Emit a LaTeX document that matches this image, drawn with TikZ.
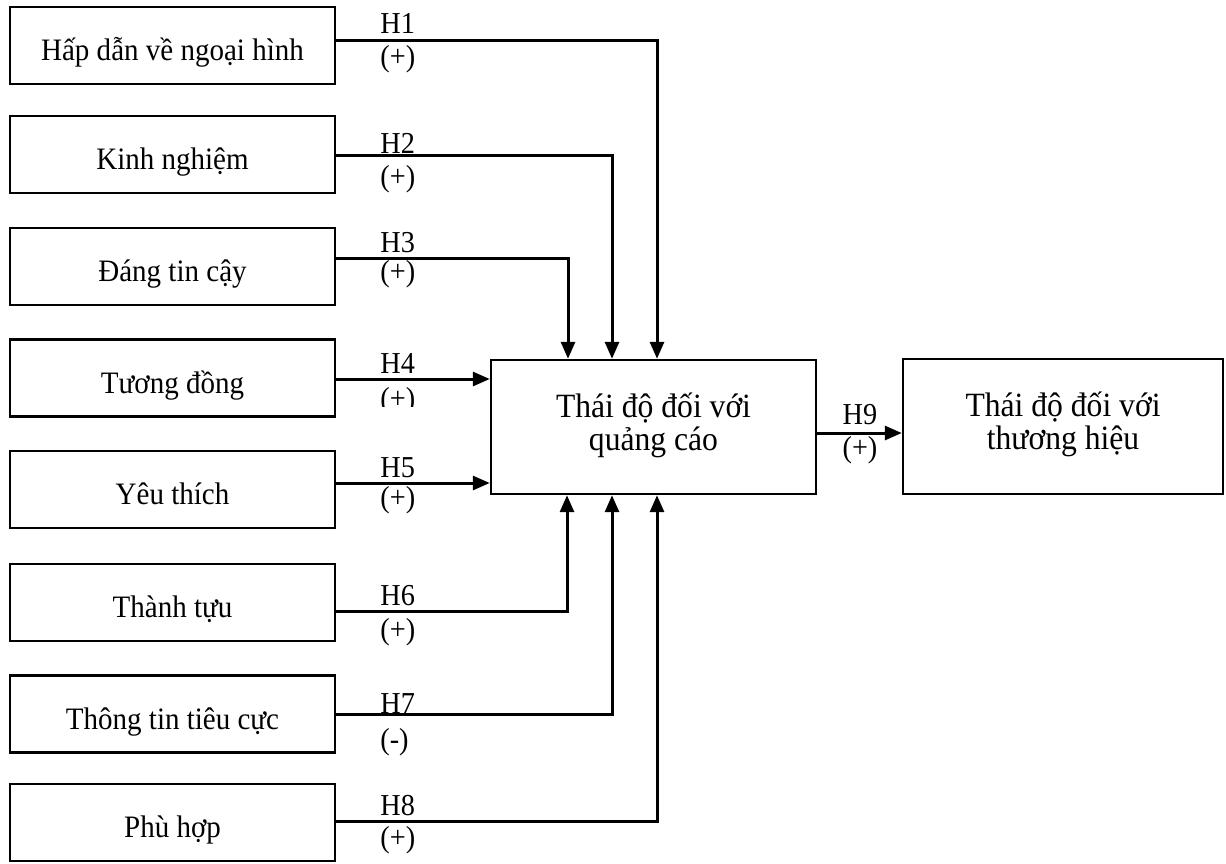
\documentclass[tikz,border=0pt]{standalone}
\usepackage{fontspec}
\setmainfont[FakeStretch=0.93]{Liberation Serif}
\usetikzlibrary{arrows.meta}
\newcommand\tln[2]{{\baselineskip=16.5pt\lineskiplimit=-\maxdimen
  \vtop{\hbox to 0pt{\hss #1\hss}\hbox to 0pt{\hss #2\hss}}}}
\begin{document}
\begin{tikzpicture}[x=0.5pt,y=-0.5pt,
  box/.style={draw,line width=1.2pt,minimum width=162.5pt,minimum height=38.5pt,inner sep=0pt,
    text height=15pt,text depth=0pt,font=\fontsize{15.6}{18}\selectfont},
  bigbox/.style={draw,line width=1.2pt,inner sep=0pt,
    text height=10pt,text depth=20pt,font=\fontsize{17}{16.5}\selectfont},
  conn/.style={line width=1.5pt,-{Triangle[length=8.5pt,width=7pt]}},
  lab/.style={anchor=base west,inner sep=0pt,font=\fontsize{15.2}{18}\selectfont}]
\useasboundingbox (0,0) rectangle (1226,863);
% left boxes
\node[box] (b1) at (172.5,45.5) {Hấp dẫn về ngoại hình};
\node[box] (b2) at (172.5,154.5) {Kinh nghiệm};
\node[box] (b3) at (172.5,266.5) {Đáng tin cậy};
\node[box] (b4) at (172.5,378) {Tương đồng};
\node[box] (b5) at (172.5,489.5) {Yêu thích};
\node[box] (b6) at (172.5,602.5) {Thành tựu};
\node[box] (b7) at (172.5,714) {Thông tin tiêu cực};
\node[box] (b8) at (172.5,822.5) {Phù hợp};
% central boxes
\node[bigbox,minimum width=162.5pt,minimum height=67pt] (c) at (653.5,427) {\tln{Thái độ đối với}{quảng cáo}};
\node[bigbox,minimum width=160pt,minimum height=67.5pt] (r) at (1063,426.5) {\tln{Thái độ đối với}{thương hiệu}};
% junction coordinates
\coordinate (j1) at (657,40);
\coordinate (j2) at (612,155);
\coordinate (j3) at (568,258);
\coordinate (y4) at (0,379);
\coordinate (y5) at (0,483);
\coordinate (j6) at (567,611);
\coordinate (j7) at (612,714);
\coordinate (j8) at (657,821);
\coordinate (y9) at (0,433);
% connectors
\draw[conn] (b1.east |- j1) -- (j1) -- (c.north -| j1);
\draw[conn] (b2.east |- j2) -- (j2) -- (c.north -| j2);
\draw[conn] (b3.east |- j3) -- (j3) -- (c.north -| j3);
\draw[conn] (b4.east |- y4) -- (c.west |- y4);
\draw[conn] (b5.east |- y5) -- (c.west |- y5);
\draw[conn] (b6.east |- j6) -- (j6) -- (c.south -| j6);
\draw[conn] (b7.east |- j7) -- (j7) -- (c.south -| j7);
\draw[conn] (b8.east |- j8) -- (j8) -- (c.south -| j8);
\draw[conn] (c.east |- y9) -- (r.west |- y9);
% labels
\node[lab] (h1) at (380,33) {H1};  \node[lab] (p1) at (380,66) {(+)};
\node[lab] (h2) at (380,153) {H2}; \node[lab] (p2) at (380,186) {(+)};
\node[lab] (h3) at (380,252) {H3}; \node[lab] (p3) at (380,281) {(+)};
\node[lab] (h4) at (380,373) {H4};
\begin{scope}
  \clip (370,385) rectangle (440,406);
  \node[lab] (p4) at (380,408) {(+)};
\end{scope}
\node[lab] (h5) at (380,477) {H5}; \node[lab] (p5) at (380,507) {(+)};
\node[lab] (h6) at (380,605) {H6}; \node[lab] (p6) at (380,639) {(+)};
\node[lab] (h7) at (380,713) {H7}; \node[lab] (p7) at (380,749) {(-)};
\node[lab] (h8) at (380,815) {H8}; \node[lab] (p8) at (380,847) {(+)};
\node[lab,anchor=base] (h9) at (860,424) {H9}; \node[lab,anchor=base] (p9) at (860,457) {(+)};
\end{tikzpicture}
\end{document}
